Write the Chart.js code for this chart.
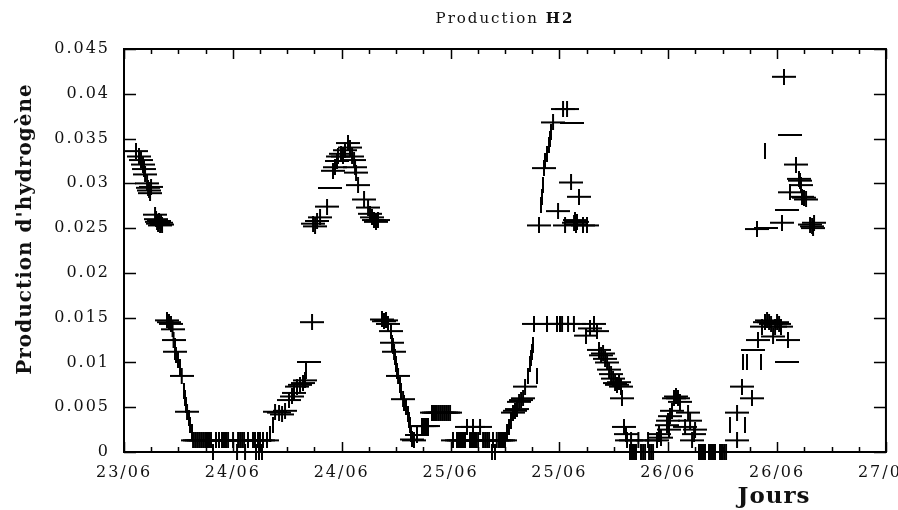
<!DOCTYPE html>
<html>
<head>
<meta charset="utf-8">
<script src="https://cdn.jsdelivr.net/npm/chart.js@4.4.1/dist/chart.umd.min.js"></script>
<style>
  html, body { margin: 0; padding: 0; background: #fff; overflow: hidden; }
  canvas { display: block; }
</style>
</head>
<body>
<canvas id="h2Chart" width="920" height="510"></canvas>
<script>
// -------- DATA --------
// x = hours since 23/06 00:00, y = hydrogen production
const dayLabels = ['23/06', '24/06', '24/06', '25/06', '25/06', '26/06', '26/06', '27/06'];
const yTickLabels = ['0', '0.005', '0.01', '0.015', '0.02', '0.025', '0.03', '0.035', '0.04', '0.045'];

// lower band, drawn as full "+"
const lowHours = [
  4.74, 4.96, 5.18, 5.35, 5.46, 5.62, 6.36, 6.95,
  7.61, 7.83, 8.05, 8.27, 8.49, 8.71, 8.93, 9.15, 9.37, 9.59, 9.81, 10.14, 10.47, 10.80, 11.02, 11.24, 11.47,
  12.02, 12.46, 12.57, 12.79, 13.01, 13.23, 13.34, 13.67, 14.22, 14.44, 14.55, 14.77, 14.88, 14.99, 15.21, 15.32, 15.76,
  16.65, 17.09, 17.42, 17.75, 18.19, 18.52, 18.74, 19.07, 19.40, 19.73, 19.95, 20.73,
  28.44, 28.66, 28.88, 29.10, 29.43, 29.54, 29.77, 30.21, 30.76, 31.75, 31.97, 32.30, 32.85, 33.07, 33.29, 33.51,
  33.95, 34.17, 34.39, 34.62, 34.84, 35.06, 35.28, 35.50, 35.72, 35.94,
  36.27, 36.71, 36.93, 37.15, 37.37, 37.59, 37.81, 38.14, 38.36, 38.47, 38.58, 38.80, 39.03, 39.25,
  39.58, 39.80, 40.02, 40.24, 40.57, 40.68, 40.90, 41.10, 41.34, 41.56, 41.78, 42.00,
  42.88, 43.10, 43.32, 43.55, 43.77, 43.99, 44.21, 45.20, 46.63, 47.73, 48.06, 48.29, 48.95, 49.60,
  50.93, 51.37, 51.81, 52.14, 52.36, 52.59, 52.81, 53.03, 53.25, 53.47, 53.69, 53.91, 54.13, 54.35, 54.57, 54.79,
  54.90, 55.12, 55.34, 55.45, 55.78, 55.90, 56.00, 56.22, 56.44, 56.70, 56.99, 57.22, 57.44, 57.77, 57.88, 58.10, 58.32,
  58.76, 58.98, 59.20, 59.86, 59.97, 60.08, 60.19, 60.41, 60.63, 60.85, 61.07, 61.29, 61.85, 62.18, 62.40,
  62.62, 62.84, 62.95, 63.39, 63.61, 63.83, 64.05, 64.49, 64.71, 64.93, 65.15, 65.70, 65.92, 66.15, 66.37,
  67.58, 67.58, 68.13, 69.23, 69.89, 70.33, 70.66, 70.89, 71.11,
  71.33, 71.55, 71.77, 71.99, 72.21, 72.43, 73.20
];
const lowValues = [
  0.0147, 0.0145, 0.0143, 0.0137, 0.0125, 0.0112, 0.0085, 0.0045,
  0.0013, 0.0013, 0.0013, 0.0013, 0.0013, 0.0013, 0.0013, 0.0013, 0.0013, 0.0013, 0, 0.0013, 0.0013, 0.0013, 0.0013, 0.0013, 0.0013,
  0.0013, 0, 0.0013, 0.0013, 0.0013, 0.0013, 0, 0.0013, 0.0013, 0.0013, 0, 0.0013, 0, 0.0013, 0, 0.0013, 0.0013,
  0.0045, 0.0044, 0.0042, 0.0046, 0.0058, 0.0062, 0.0066, 0.0073, 0.0075, 0.0077, 0.0080, 0.0145,
  0.0148, 0.0146, 0.0147, 0.0143, 0.0135, 0.0122, 0.0112, 0.0085, 0.0059, 0.0014, 0.0013, 0.0019, 0.0029, 0.0029, 0.0029, 0.0029,
  0.0044, 0.0044, 0.0044, 0.0044, 0.0044, 0.0044, 0.0044, 0.0044, 0.0044, 0.0044,
  0.0013, 0.0013, 0.0013, 0.0013, 0.0013, 0.0013, 0.0028, 0.0013, 0.0013, 0.0028, 0.0013, 0.0013, 0.0013, 0.0028,
  0.0013, 0.0013, 0.0013, 0.0013, 0, 0.0013, 0, 0.0013, 0.0013, 0.0013, 0.0013, 0.0013,
  0.0044, 0.0046, 0.0048, 0.0056, 0.0058, 0.0060, 0.0073, 0.0143, 0.0143, 0.0143, 0.0143, 0.0143, 0.0143, 0.0143,
  0.0130, 0.0138, 0.0143, 0.0135, 0.0114, 0.0108, 0.0110, 0.0104, 0.0100, 0.0092, 0.0087, 0.0082, 0.0077, 0.0075, 0.0078, 0.0073,
  0.0060, 0.0028, 0.0020, 0.0013, 0, 0.0013, 0, 0, 0, 0.0013, 0, 0, 0, 0.0013, 0, 0, 0,
  0.0013, 0.0020, 0.0016, 0.0030, 0.0035, 0.0025, 0.0040, 0.0046, 0.0060, 0.0062, 0.0060, 0.0056, 0.0028, 0.0044, 0.0035,
  0.0013, 0.0020, 0.0025, 0, 0, 0, 0, 0, 0, 0, 0, 0, 0, 0, 0,
  0.0013, 0.0044, 0.0073, 0.0060, 0.0125, 0.0140, 0.0145, 0.0147, 0.0145,
  0.0143, 0.0129, 0.0140, 0.0145, 0.0143, 0.0140, 0.0125
];
// lower band, points where only the vertical stroke shows
const lowStemHours = [
  5.57, 5.73, 5.95, 6.17, 6.61, 6.72, 6.83, 7.17, 7.33, 7.50, 16.10, 16.43, 20.06,
  29.65, 29.88, 29.99, 30.10, 30.43, 30.54, 30.87, 31.09, 31.31, 31.42, 31.53, 31.64,
  42.22, 42.44, 42.66, 44.54, 44.76, 44.87, 44.98, 45.09, 45.53,
  66.81, 68.24, 68.46, 68.68, 70.22
];
const lowStemValues = [
  0.0118, 0.0108, 0.0103, 0.0095, 0.0068, 0.0060, 0.0052, 0.0038, 0.0030, 0.0022, 0.0020, 0.0030, 0.0091,
  0.0118, 0.0106, 0.0098, 0.0090, 0.0075, 0.0068, 0.0055, 0.0050, 0.0042, 0.0036, 0.0030, 0.0020,
  0.0022, 0.0028, 0.0035, 0.0085, 0.0098, 0.0105, 0.0112, 0.0120, 0.0085,
  0.0030, 0.0100, 0.0030, 0.0100, 0.0100
];
// lower band, points where only the horizontal stroke shows
const lowDashHours = [20.39, 69.34, 73.09];
const lowDashValues = [0.0100, 0.0114, 0.0100];

// upper band
const highHours = [
  1.32, 1.65, 1.87, 2.09, 2.20, 2.32, 2.54, 2.65, 2.76, 2.87, 2.98, 3.42, 3.53, 3.64, 3.75, 3.86, 3.97, 4.08, 4.19,
  20.84, 21.06, 21.28, 21.61, 22.38, 23.04, 23.26, 23.48, 23.59, 23.92, 24.14, 24.36, 24.69, 24.91, 25.14,
  25.36, 25.47, 25.58, 25.80, 26.46, 26.90, 27.12, 27.34, 27.56, 27.78, 28.00,
  45.75, 46.30, 47.30, 47.85, 48.40, 48.62, 48.84, 49.28, 49.61, 49.72, 49.83, 49.94, 50.16, 50.60, 51.04,
  69.78, 72.54, 72.76, 73.42, 74.08, 74.41, 74.52, 74.63, 74.74, 74.96, 75.19, 75.63, 75.85, 75.96, 76.07
];
const highValues = [
  0.0336, 0.0330, 0.0326, 0.0321, 0.0316, 0.0310, 0.0300, 0.0295, 0.0292, 0.0289, 0.0296, 0.0265, 0.0260, 0.0257, 0.0255, 0.0258, 0.0253, 0.0256, 0.0254,
  0.0255, 0.0252, 0.0258, 0.0262, 0.0274, 0.0314, 0.0318, 0.0325, 0.0330, 0.0333, 0.0330, 0.0337, 0.0345, 0.0340, 0.0330,
  0.0326, 0.0318, 0.0312, 0.0298, 0.0282, 0.0273, 0.0266, 0.0262, 0.0259, 0.0257, 0.0259,
  0.0253, 0.0317, 0.0368, 0.0269, 0.0383, 0.0253, 0.0383, 0.0301, 0.0256, 0.0259, 0.0254, 0.0257, 0.0285, 0.0253, 0.0253,
  0.0249, 0.0256, 0.0419, 0.0290, 0.0321, 0.0305, 0.0303, 0.0298, 0.0285, 0.0284, 0.0282, 0.0254, 0.0252, 0.0250, 0.0256
];
const highStemHours = [45.97, 46.08, 46.19, 46.41, 46.63, 46.86, 46.97, 47.08, 70.67];
const highStemValues = [0.0276, 0.0285, 0.0298, 0.0325, 0.0333, 0.0343, 0.0350, 0.0357, 0.0336];
const highDashHours = [22.71, 49.39, 70.78, 73.09, 73.42];
const highDashValues = [0.0295, 0.0367, 0.0250, 0.0270, 0.0354];

// -------- MARKERS --------
// "+" wider than tall like the original plot, plus its two halves
function makeMarker(w, h, horiz, vert) {
  const c = document.createElement('canvas');
  c.width = w;
  c.height = h;
  const g = c.getContext('2d');
  g.fillStyle = '#000';
  if (horiz) g.fillRect(0, h / 2 - 1, w, 2);
  if (vert) g.fillRect(w / 2 - 1, 0, 2, h);
  return c;
}
const plus = makeMarker(24, 16, true, true);
const stem = makeMarker(2, 16, false, true);
const dash = makeMarker(24, 2, true, false);

function toPoints(xs, ys) {
  return xs.map((h, i) => ({ x: h, y: ys[i] }));
}

function series(label, xs, ys, marker) {
  return { label, data: toPoints(xs, ys), pointStyle: marker, clip: false };
}

// -------- FRAME, TICKS, TITLES --------
const framePlugin = {
  id: 'frame',
  beforeDraw(chart) {
    chart.ctx.letterSpacing = '2px';
  },
  beforeDatasetsDraw(chart) {
    const { ctx, chartArea: a, scales } = chart;
    const x = scales.x, y = scales.y;
    ctx.save();
    ctx.strokeStyle = '#000';
    ctx.lineWidth = 2;
    ctx.strokeRect(a.left, a.top, a.right - a.left, a.bottom - a.top);

    ctx.lineWidth = 1.5;
    ctx.beginPath();
    for (let h = 0; h <= 84; h += 3) {
      const px = Math.round(x.getPixelForValue(h)) + 0.5;
      const len = h % 12 === 0 ? 10 : 5;
      ctx.moveTo(px, a.top);
      ctx.lineTo(px, a.top + len);
      ctx.moveTo(px, a.bottom);
      ctx.lineTo(px, a.bottom - len);
    }
    for (let i = 0; i < yTickLabels.length; i++) {
      const py = Math.round(y.getPixelForValue(i * 0.005)) + 0.5;
      ctx.moveTo(a.left, py);
      ctx.lineTo(a.left + 12, py);
      ctx.moveTo(a.right, py);
      ctx.lineTo(a.right - 12, py);
    }
    ctx.stroke();
    ctx.restore();
  },
  afterDraw(chart) {
    const { ctx, chartArea: a } = chart;
    ctx.save();
    ctx.fillStyle = '#111';
    ctx.textBaseline = 'middle';

    // main title, "H2" in bold
    ctx.letterSpacing = '2px';
    ctx.font = '15px "DejaVu Serif"';
    const part1 = 'Production ';
    const w1 = ctx.measureText(part1).width;
    ctx.font = 'bold 15px "DejaVu Serif"';
    const w2 = ctx.measureText('H2').width;
    const tx = (a.left + a.right) / 2 - (w1 + w2) / 2;
    ctx.textAlign = 'left';
    ctx.font = '15px "DejaVu Serif"';
    ctx.fillText(part1, tx, 19);
    ctx.font = 'bold 15px "DejaVu Serif"';
    ctx.fillText('H2', tx + w1, 19);

    // axis titles
    ctx.letterSpacing = '1px';
    ctx.textAlign = 'center';
    ctx.font = 'bold 23px "DejaVu Serif"';
    ctx.fillText('Jours', 774, 497);

    ctx.translate(26, 229);
    ctx.rotate(-Math.PI / 2);
    ctx.font = 'bold 20px "DejaVu Serif"';
    ctx.fillText("Production d'hydrogène", 0, 0);
    ctx.restore();
  }
};

// -------- CHART --------
const ctx = document.getElementById('h2Chart').getContext('2d');
const chart = new Chart(ctx, {
  type: 'scatter',
  data: {
    datasets: [
      series('Production H2 (bas)', lowHours, lowValues, plus),
      series('Production H2 (bas)', lowStemHours, lowStemValues, stem),
      series('Production H2 (bas)', lowDashHours, lowDashValues, dash),
      series('Production H2 (haut)', highHours, highValues, plus),
      series('Production H2 (haut)', highStemHours, highStemValues, stem),
      series('Production H2 (haut)', highDashHours, highDashValues, dash)
    ]
  },
  options: {
    responsive: false,
    animation: false,
    layout: { padding: { left: 0, top: 49, right: 34, bottom: 0 } },
    plugins: {
      legend: { display: false },
      tooltip: { enabled: false },
      title: { display: false }
    },
    scales: {
      x: {
        type: 'linear',
        min: 0,
        max: 84,
        grid: { display: false, drawTicks: false },
        border: { display: false },
        afterFit: (s) => { s.height = 58; },
        ticks: {
          stepSize: 12,
          autoSkip: false,
          maxRotation: 0,
          padding: 11,
          color: '#111',
          font: { family: 'DejaVu Serif', size: 16 },
          callback: (v) => dayLabels[Math.round(v / 12)]
        }
      },
      y: {
        min: 0,
        max: 0.045,
        grid: { display: false, drawTicks: false },
        border: { display: false },
        afterFit: (s) => { s.width = 124; },
        ticks: {
          stepSize: 0.005,
          autoSkip: false,
          padding: 14,
          color: '#111',
          font: { family: 'DejaVu Serif', size: 16 },
          callback: (v) => yTickLabels[Math.round(v / 0.005)]
        }
      }
    }
  },
  plugins: [framePlugin]
});
</script>
</body>
</html>
